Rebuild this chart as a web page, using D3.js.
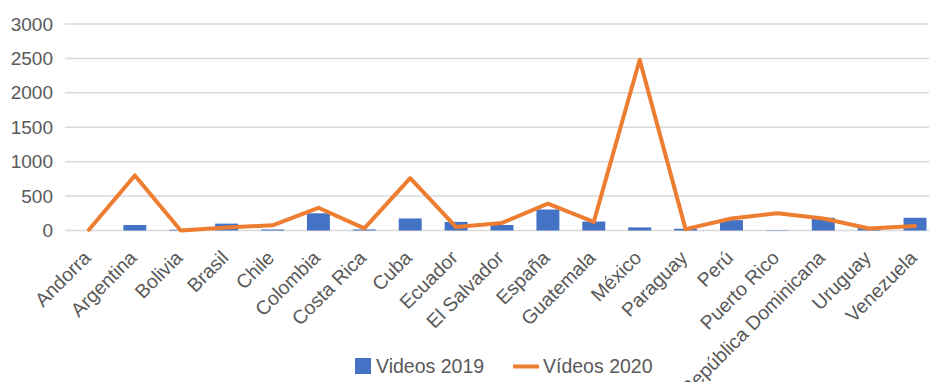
<!DOCTYPE html>
<html>
<head>
<meta charset="utf-8">
<script src="https://cdn.jsdelivr.net/npm/d3@7"></script>
<style>
  body { margin: 0; background: #fff; }
  text { font-family: "Liberation Sans", Arial, sans-serif; fill: #595959; }
</style>
</head>
<body>
<div id="chart"></div>
<script>
const countries = ["Andorra", "Argentina", "Bolivia", "Brasil", "Chile", "Colombia", "Costa Rica",
  "Cuba", "Ecuador", "El Salvador", "España", "Guatemala", "México", "Paraguay", "Perú",
  "Puerto Rico", "República Dominicana", "Uruguay", "Venezuela"];
const videos2019 = [0, 80, 10, 100, 15, 250, 15, 175, 125, 80, 305, 130, 45, 25, 150, 5, 185, 45, 185];
const videos2020 = [10, 800, 0, 45, 75, 330, 30, 760, 50, 110, 390, 125, 2480, 20, 175, 250, 175, 30, 65];
const yTicks = [0, 500, 1000, 1500, 2000, 2500, 3000];
const seriesNames = ["Videos 2019", "Vídeos 2020"];

const W = 929, H = 382;
const fontSize = "19.5px";

var svg = d3.select("#chart").append("svg")
  .attr("width", W)
  .attr("height", H);

var x = d3.scaleBand()
  .domain(countries)
  .range([66, 938])
  .paddingInner(0.5)
  .paddingOuter(0.25);

var y = d3.scaleLinear()
  .domain([0, 3000])
  .range([230.5, 24]);

// gridlines
svg.append("g")
  .selectAll("line")
  .data(yTicks)
  .enter()
  .append("line")
    .attr("x1", 65)
    .attr("x2", W)
    .attr("y1", function(d) { return y(d); })
    .attr("y2", function(d) { return y(d); })
    .attr("stroke", "#d9d9d9")
    .attr("stroke-width", 1.5);

// y axis labels
var yAxis = svg.append("g")
  .attr("transform", "translate(53,0)")
  .call(d3.axisLeft(y).tickValues(yTicks).tickSize(0).tickPadding(0).tickFormat(d3.format("d")));
yAxis.select(".domain").remove();
yAxis.selectAll("text").style("font-size", "19px").attr("fill", "#595959");

// bars
svg.append("g")
  .selectAll("rect")
  .data(videos2019)
  .enter()
  .append("rect")
    .attr("x", function(d, i) { return x(countries[i]); })
    .attr("y", function(d) { return y(d); })
    .attr("width", x.bandwidth())
    .attr("height", function(d) { return y(0) - y(d); })
    .attr("fill", "#4472c4");

// line
var line = d3.line()
  .x(function(d, i) { return x(countries[i]) + x.bandwidth() / 2; })
  .y(function(d) { return y(d); });

svg.append("path")
  .datum(videos2020)
  .attr("d", line)
  .attr("fill", "none")
  .attr("stroke", "#ed7d31")
  .attr("stroke-width", 4)
  .attr("stroke-linejoin", "round")
  .attr("stroke-linecap", "round");

// x labels, rotated
svg.append("g")
  .selectAll("text")
  .data(countries)
  .enter()
  .append("text")
    .attr("transform", function(d) {
      return "translate(" + (x(d) + x.bandwidth() / 2 + 3) + ",259) rotate(-45)";
    })
    .attr("text-anchor", "end")
    .style("font-size", fontSize)
    .text(function(d) { return d; });

// legend
var legend = svg.append("g");
legend.append("rect")
  .attr("x", 355).attr("y", 358)
  .attr("width", 16).attr("height", 16)
  .attr("fill", "#4472c4");
legend.append("text")
  .attr("x", 376).attr("y", 373)
  .style("font-size", fontSize)
  .text(seriesNames[0]);
legend.append("line")
  .attr("x1", 513).attr("x2", 539)
  .attr("y1", 366.5).attr("y2", 366.5)
  .attr("stroke", "#ed7d31")
  .attr("stroke-width", 4);
legend.append("text")
  .attr("x", 543).attr("y", 373)
  .style("font-size", fontSize)
  .text(seriesNames[1]);
</script>
</body>
</html>
